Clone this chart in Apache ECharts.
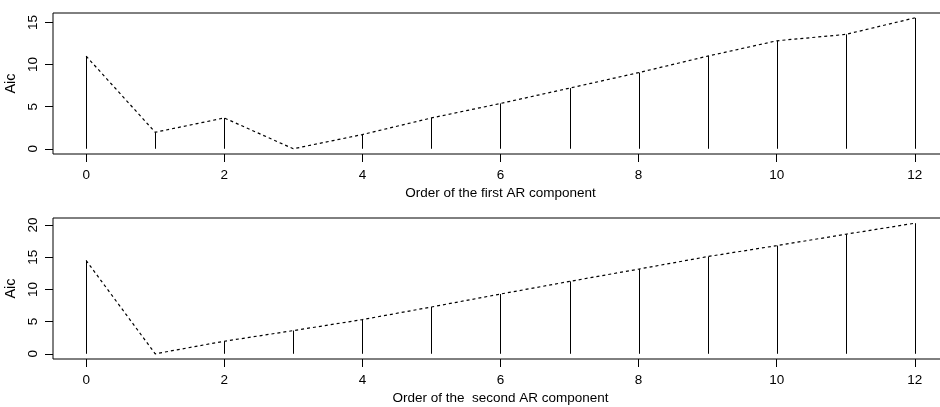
<!DOCTYPE html>
<html>
<head>
<meta charset="utf-8">
<script src="https://cdn.jsdelivr.net/npm/echarts@6/dist/echarts.min.js"></script>
<style>
html,body{margin:0;padding:0;background:#fff;}
#chart{width:940px;height:407px;}
</style>
</head>
<body>
<div id="chart"></div>
<script>
var orders = [0,1,2,3,4,5,6,7,8,9,10,11,12];
var aicFirst = [11.0,1.96,3.66,0,1.69,3.66,5.38,7.2,9.04,11.0,12.82,13.58,15.54];
var aicSecond = [14.49,0,1.95,3.6,5.31,7.27,9.28,11.24,13.15,15.1,16.8,18.57,20.28];
var xTicks = [0,2,4,6,8,10,12];
var yTicksFirst = [0,5,10,15];
var yTicksSecond = [0,5,10,15,20];
var xTitleFirst = 'Order of the first AR component';
var xTitleSecond = 'Order of the  second AR component';
var yTitle = 'Aic';

var FONT = 'Liberation Sans, Arial, Helvetica, sans-serif';
var FS = 13.5;

function pairs(xs, ys){ return xs.map(function(x,i){ return [x, ys[i]]; }); }

function xAxisCfg(idx, name){
  return {
    type:'value', gridIndex:idx, min:-0.48, max:12.48, position:'bottom',
    name:name, nameLocation:'middle', nameGap:32,
    nameTextStyle:{color:'#000', fontSize:FS, fontFamily:FONT},
    axisLine:{show:false, onZero:false},
    splitLine:{show:false},
    axisTick:{show:true, inside:false, length:8, lineStyle:{color:'#000', width:1}, customValues:xTicks},
    axisLabel:{color:'#000', fontSize:FS, fontFamily:FONT, margin:14, customValues:xTicks}
  };
}
function yAxisCfg(idx, min, max, ticks){
  return {
    type:'value', gridIndex:idx, min:min, max:max, position:'left',
    name:yTitle, nameLocation:'middle', nameGap:30, nameRotate:90,
    nameTextStyle:{color:'#000', fontSize:FS+1, fontFamily:FONT},
    axisLine:{show:false, onZero:false},
    splitLine:{show:false},
    axisTick:{show:true, inside:false, length:8, lineStyle:{color:'#000', width:1}, customValues:ticks},
    axisLabel:{color:'#000', fontSize:FS, fontFamily:FONT, margin:13, rotate:90, customValues:ticks}
  };
}
function stems(idx, data){
  return {
    type:'custom', xAxisIndex:idx, yAxisIndex:idx, data:data, silent:true,
    renderItem:function(params, api){
      var p0 = api.coord([api.value(0), 0]);
      var p1 = api.coord([api.value(0), api.value(1)]);
      var x = Math.round(p0[0]) + 0.5;
      return {type:'line', shape:{x1:x, y1:p0[1], x2:x, y2:p1[1]},
        style:{stroke:'#000', lineWidth:1}};
    }
  };
}
function dashed(idx, data){
  return {
    type:'line', xAxisIndex:idx, yAxisIndex:idx, data:data, symbol:'none', silent:true,
    lineStyle:{color:'#000', width:1.2, type:[3,3]}
  };
}

var chart = echarts.init(document.getElementById('chart'), null, {renderer:'canvas'});
chart.setOption({
  animation:false,
  backgroundColor:'#fff',
  grid:[
    {left:53, top:13, width:895, height:141, show:true, borderColor:'#000', borderWidth:1, backgroundColor:'transparent', containLabel:false, outerBoundsMode:'none'},
    {left:53, top:218, width:895, height:141, show:true, borderColor:'#000', borderWidth:1, backgroundColor:'transparent', containLabel:false, outerBoundsMode:'none'}
  ],
  xAxis:[xAxisCfg(0, xTitleFirst), xAxisCfg(1, xTitleSecond)],
  yAxis:[yAxisCfg(0, -0.62, 16.12, yTicksFirst), yAxisCfg(1, -0.81, 21.09, yTicksSecond)],
  series:[
    stems(0, pairs(orders, aicFirst)),
    dashed(0, pairs(orders, aicFirst)),
    stems(1, pairs(orders, aicSecond)),
    dashed(1, pairs(orders, aicSecond))
  ]
});
</script>
</body>
</html>
